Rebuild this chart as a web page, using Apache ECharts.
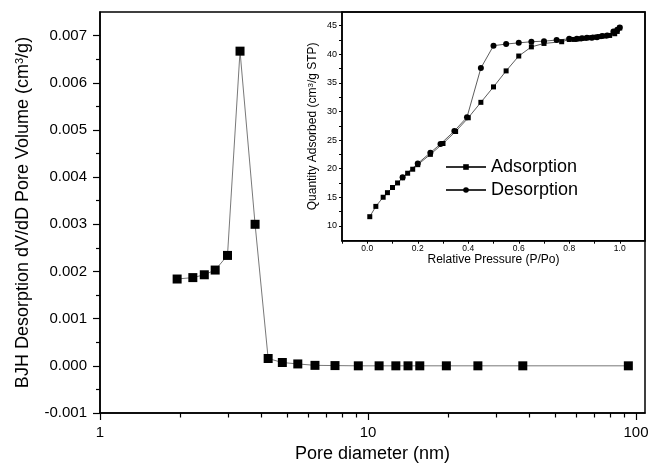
<!DOCTYPE html>
<html>
<head>
<meta charset="utf-8">
<script src="https://cdn.jsdelivr.net/npm/echarts@6/dist/echarts.min.js"></script>
<style>html,body{margin:0;padding:0;background:#fff;}#c{width:660px;height:469px;}</style>
</head>
<body>
<div id="c"></div>
<script>
// Main chart: BJH pore size distribution
var poreDiameter = [1.94, 2.22, 2.45, 2.69, 2.99, 3.33, 3.79, 4.24, 4.79, 5.47, 6.34, 7.53, 9.20, 11.0, 12.7, 14.1, 15.6, 19.6, 25.7, 37.8, 93.6];
var poreVolume = [0.00184, 0.00187, 0.00193, 0.00203, 0.00234, 0.00667, 0.00300, 0.000155, 0.00007, 0.00004, 0.00001, 0.000005, 0.0, 0.0, 0.0, 0.0, 0.0, 0.0, 0.0, 0.0, 0.0];
var mainXMajorTicks = [1, 10, 100];
var mainXMinorTicks = [2, 3, 4, 5, 6, 7, 8, 9, 20, 30, 40, 50, 60, 70, 80, 90];
var mainYMajorTicks = [-0.001, 0, 0.001, 0.002, 0.003, 0.004, 0.005, 0.006, 0.007];
var mainYMinorTicks = [-0.0005, 0.0005, 0.0015, 0.0025, 0.0035, 0.0045, 0.0055, 0.0065];

// Inset: isotherm
var adsP = [0.01, 0.034, 0.063, 0.08, 0.10, 0.12, 0.14, 0.16, 0.18, 0.20, 0.25, 0.30, 0.35, 0.40, 0.45, 0.50, 0.55, 0.60, 0.65, 0.70, 0.77, 0.80, 0.82, 0.84, 0.86, 0.88, 0.90, 0.92, 0.94, 0.96, 0.98, 0.99, 1.00];
var adsQ = [11.6, 13.4, 15.0, 15.8, 16.7, 17.5, 18.4, 19.2, 19.9, 20.7, 22.5, 24.4, 26.5, 28.9, 31.6, 34.3, 37.1, 39.7, 41.3, 41.9, 42.2, 42.6, 42.6, 42.7, 42.8, 42.9, 43.0, 43.1, 43.2, 43.3, 43.6, 44.0, 44.6];
var desP = [1.00, 0.99, 0.975, 0.95, 0.93, 0.91, 0.89, 0.87, 0.85, 0.83, 0.80, 0.75, 0.70, 0.65, 0.60, 0.55, 0.50, 0.45, 0.395, 0.345, 0.29, 0.25, 0.20, 0.14];
var desQ = [44.7, 44.3, 44.0, 43.3, 43.2, 43.0, 42.9, 42.9, 42.8, 42.7, 42.7, 42.5, 42.3, 42.2, 42.0, 41.8, 41.5, 37.6, 29.0, 26.6, 24.3, 22.8, 20.9, 18.5];
var insetXLabels = [0, 0.2, 0.4, 0.6, 0.8, 1.0];
var insetXTicks = [-0.1, 0, 0.1, 0.2, 0.3, 0.4, 0.5, 0.6, 0.7, 0.8, 0.9, 1.0];
var insetYLabels = [10, 15, 20, 25, 30, 35, 40, 45];
var insetYTicks = [10, 12.5, 15, 17.5, 20, 22.5, 25, 27.5, 30, 32.5, 35, 37.5, 40, 42.5, 45];

function zip(a, b) { return a.map(function (v, i) { return [v, b[i]]; }); }

var FONT = '"Liberation Sans", Arial, sans-serif';
var chart = echarts.init(document.getElementById('c'), null, {renderer: 'canvas'});
var axisLine = {show: true, onZero: false, lineStyle: {color: '#000', width: 1.5}};
var noLine = {show: false, onZero: false};

var option = {
  backgroundColor: '#fff',
  animation: false,
  grid: [
    {left: 100, right: 15, top: 12, bottom: 56, show: true, borderColor: '#000', borderWidth: 1.5, containLabel: false},
    {left: 342, right: 15, top: 12, bottom: 228.3, show: true, borderColor: '#000', borderWidth: 1.5, containLabel: false}
  ],
  xAxis: [
    {type: 'log', gridIndex: 0, position: 'bottom', min: 1, max: 108, logBase: 10,
     axisLine: axisLine, splitLine: {show: false},
     axisTick: {show: true, inside: false, length: 7, lineStyle: {color: '#000', width: 1.2}, customValues: mainXMajorTicks},
     axisLabel: {show: true, margin: 12, fontSize: 15, color: '#000', fontFamily: FONT, customValues: mainXMajorTicks,
                 formatter: function (v) { return String(Math.round(v)); }},
     name: 'Pore diameter (nm)', nameLocation: 'middle', nameGap: 30,
     nameTextStyle: {fontSize: 18, color: '#000', fontFamily: FONT}},
    {type: 'log', gridIndex: 0, position: 'bottom', min: 1, max: 108, logBase: 10,
     axisLine: noLine, splitLine: {show: false}, axisLabel: {show: false},
     axisTick: {show: true, inside: false, length: 4.5, lineStyle: {color: '#000', width: 1.2}, customValues: mainXMinorTicks}},
    {type: 'value', gridIndex: 1, position: 'bottom', min: -0.1, max: 1.1,
     axisLine: axisLine, splitLine: {show: false},
     axisTick: {show: true, inside: false, length: 3, lineStyle: {color: '#000', width: 1}, customValues: insetXTicks},
     axisLabel: {show: true, margin: 3, fontSize: 8.5, color: '#000', fontFamily: FONT, customValues: insetXLabels,
                 formatter: function (v) { return v.toFixed(1); }},
     name: 'Relative Pressure (P/Po)', nameLocation: 'middle', nameGap: 9,
     nameTextStyle: {fontSize: 12, color: '#000', fontFamily: FONT}}
  ],
  yAxis: [
    {type: 'value', gridIndex: 0, position: 'left', min: -0.001, max: 0.0075, interval: 0.001,
     axisLine: axisLine, splitLine: {show: false},
     axisTick: {show: true, inside: false, length: 7, lineStyle: {color: '#000', width: 1.2}, customValues: mainYMajorTicks},
     axisLabel: {show: true, margin: 13, fontSize: 15, color: '#000', fontFamily: FONT, customValues: mainYMajorTicks,
                 formatter: function (v) { return v.toFixed(3); }},
     name: 'BJH Desorption dV/dD Pore Volume (cm{sup|3}/g)', nameLocation: 'middle', nameGap: 68,
     nameTextStyle: {fontSize: 18, color: '#000', fontFamily: FONT,
                     rich: {sup: {fontSize: 11, color: '#000', fontFamily: FONT, verticalAlign: 'top', lineHeight: 11}}}},
    {type: 'value', gridIndex: 0, position: 'left', min: -0.001, max: 0.0075,
     axisLine: noLine, splitLine: {show: false}, axisLabel: {show: false},
     axisTick: {show: true, inside: false, length: 4, lineStyle: {color: '#000', width: 1.2}, customValues: mainYMinorTicks}},
    {type: 'value', gridIndex: 1, position: 'left', min: 7.4, max: 47.4,
     axisLine: axisLine, splitLine: {show: false},
     axisTick: {show: true, inside: false, length: 3, lineStyle: {color: '#000', width: 1}, customValues: insetYTicks},
     axisLabel: {show: true, margin: 5, fontSize: 9, color: '#000', fontFamily: FONT, customValues: insetYLabels},
     name: 'Quantity Adsorbed (cm{sup|3}/g STP)', nameLocation: 'middle', nameGap: 23,
     nameTextStyle: {fontSize: 12, color: '#000', fontFamily: FONT,
                     rich: {sup: {fontSize: 8, color: '#000', fontFamily: FONT, verticalAlign: 'top', lineHeight: 8}}}}
  ],
  legend: {
    show: true, orient: 'vertical', left: 445, top: 158, padding: 0, itemWidth: 40, itemHeight: 7, itemGap: 5,
    data: ['Adsorption', 'Desorption'],
    textStyle: {fontSize: 18, color: '#000', fontFamily: FONT}
  },
  series: [
    {name: 'BJH', type: 'line', xAxisIndex: 0, yAxisIndex: 0, data: zip(poreDiameter, poreVolume),
     symbol: 'rect', symbolSize: 9, itemStyle: {color: '#000'}, lineStyle: {color: '#555', width: 0.8}, z: 3},
    {name: 'Adsorption', type: 'line', xAxisIndex: 2, yAxisIndex: 2, data: zip(adsP, adsQ),
     symbol: 'rect', symbolSize: 5, itemStyle: {color: '#000'}, lineStyle: {color: '#333', width: 0.8}},
    {name: 'Desorption', type: 'line', xAxisIndex: 2, yAxisIndex: 2, data: zip(desP, desQ),
     symbol: 'circle', symbolSize: 6, itemStyle: {color: '#000'}, lineStyle: {color: '#333', width: 0.8}}
  ]
};
chart.setOption(option);
</script>
</body>
</html>
